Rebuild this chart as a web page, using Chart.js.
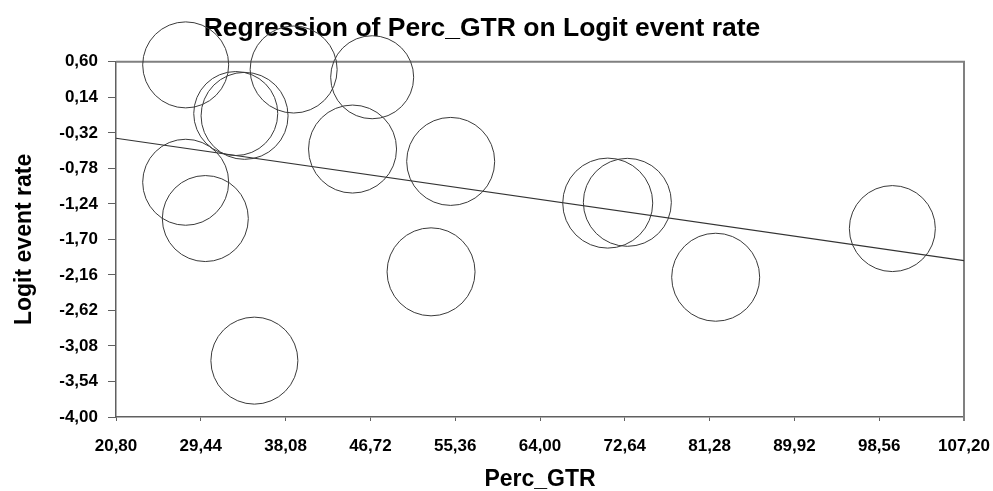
<!DOCTYPE html>
<html>
<head>
<meta charset="utf-8">
<script src="https://cdn.jsdelivr.net/npm/chart.js@4"></script>
<style>
  html, body { margin: 0; padding: 0; background: #fff; }
  #wrap { width: 993px; height: 491px; }
</style>
</head>
<body>
<div id="wrap"><canvas id="chart" width="993" height="491"></canvas></div>
<script>
// studies: Perc_GTR vs logit event rate, circle size = weight (px radius)
const percGtr = [27.9, 38.9, 46.9, 33.0, 33.9, 44.9, 54.9, 27.9, 29.9, 34.9, 52.9, 70.9, 72.9, 99.9, 81.9];
const logitRate = [0.56, 0.50, 0.40, -0.07, -0.10, -0.53, -0.69, -0.96, -1.43, -3.27, -2.12, -1.23, -1.22, -1.56, -2.19];
const weights = [43, 43.5, 41.5, 42, 43.5, 44, 44, 43, 43, 43.5, 44, 45, 44, 43, 44];

// fitted regression line (end points at the axis limits)
const regX = [20.8, 107.2];
const regY = [-0.39, -1.975];

// axis ranges
const xMin = 20.8, xMax = 107.2, xStep = 8.64;
const yMin = -4.0, yMax = 0.6, yStep = 0.46;

const FONT = 'Arial, "Liberation Sans", sans-serif';

function commaFmt(v) {
    return Number(v).toFixed(2).replace('.', ',');
}

// draws the top and right edges of the plot frame
const frameBox = {
    id: 'frameBox',
    beforeDatasetsDraw(chart) {
        const { ctx, chartArea } = chart;
        ctx.save();
        ctx.strokeStyle = '#808080';
        ctx.lineWidth = 2;
        ctx.beginPath();
        ctx.moveTo(chartArea.left, chartArea.top);
        ctx.lineTo(chartArea.right, chartArea.top);
        ctx.lineTo(chartArea.right, chartArea.bottom + 4);
        ctx.stroke();
        ctx.restore();
    }
};

const ctx = document.getElementById('chart').getContext('2d');
new Chart(ctx, {
    data: {
        datasets: [
            {
                type: 'bubble',
                data: percGtr.map((x, i) => ({ x: x, y: logitRate[i], r: weights[i] })),
                backgroundColor: 'rgba(0,0,0,0)',
                borderColor: '#3a3a3a',
                borderWidth: 1,
                hoverRadius: 0,
                clip: false
            },
            {
                type: 'line',
                data: regX.map((x, i) => ({ x: x, y: regY[i] })),
                borderColor: '#333',
                borderWidth: 1.2,
                pointRadius: 0,
                fill: false,
                clip: false
            }
        ]
    },
    options: {
        responsive: false,
        animation: false,
        layout: { autoPadding: false, padding: { left: 0, right: 29, top: 0, bottom: 0 } },
        plugins: {
            legend: { display: false },
            tooltip: { enabled: false },
            title: {
                display: true,
                text: 'Regression of Perc_GTR on Logit event rate',
                color: '#000',
                font: { family: FONT, size: 26.5, weight: 'bold', lineHeight: 1.2 },
                padding: { top: 13, bottom: 17 }
            }
        },
        scales: {
            x: {
                type: 'linear',
                min: xMin,
                max: xMax,
                afterFit(scale) {
                    scale.height = 74;
                    scale.paddingLeft = 0;
                    scale.paddingRight = 0;
                },
                ticks: {
                    stepSize: xStep,
                    autoSkip: false,
                    maxRotation: 0,
                    padding: 15,
                    color: '#000',
                    font: { family: FONT, size: 17, weight: 'bold' },
                    callback: commaFmt
                },
                grid: {
                    drawOnChartArea: false,
                    drawTicks: true,
                    tickLength: 4,
                    color: '#606060'
                },
                border: { display: true, color: '#606060', width: 1.5 },
                title: {
                    display: true,
                    text: 'Perc_GTR',
                    color: '#000',
                    font: { family: FONT, size: 23, weight: 'bold', lineHeight: 1.0 },
                    padding: { top: 0, bottom: 0 }
                }
            },
            y: {
                type: 'linear',
                min: yMin,
                max: yMax,
                afterFit(scale) { scale.width = 116; },
                ticks: {
                    stepSize: yStep,
                    autoSkip: false,
                    padding: 10,
                    color: '#000',
                    font: { family: FONT, size: 17, weight: 'bold' },
                    callback: commaFmt
                },
                grid: {
                    drawOnChartArea: false,
                    drawTicks: true,
                    tickLength: 8,
                    color: '#606060'
                },
                border: { display: true, color: '#606060', width: 1.5 },
                title: {
                    display: true,
                    text: 'Logit event rate',
                    color: '#000',
                    font: { family: FONT, size: 23, weight: 'bold', lineHeight: 1.2 },
                    padding: { top: 11, bottom: 0 }
                }
            }
        }
    },
    plugins: [frameBox]
});
</script>
</body>
</html>
